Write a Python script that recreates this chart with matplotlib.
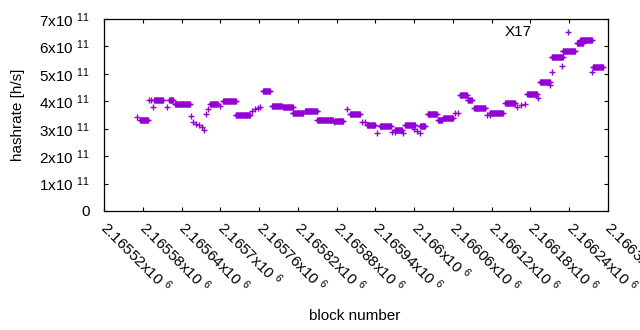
import numpy as np
import matplotlib.pyplot as plt

plt.rcParams['font.family'] = ['Liberation Sans', 'DejaVu Sans']
plt.rcParams['mathtext.default'] = 'regular'

# runs of blocks with the same hashrate estimate (first block, last block, rate in 1e11 h/s)
seg_first = [2165571, 2165576, 2165590, 2165593, 2165596, 2165598, 2165617, 2165621,
             2165630, 2165654, 2165658, 2165662, 2165667, 2165672, 2165675, 2165678,
             2165681, 2165684, 2165700, 2165704, 2165724, 2165749, 2165754, 2165758,
             2165761, 2165766, 2165780, 2165797, 2165812, 2165831, 2165850, 2165876,
             2165877, 2165896, 2165901, 2165919, 2165924, 2165927, 2165942, 2165947,
             2165966, 2165970, 2165970, 2165982, 2165986, 2166000, 2166004, 2166009,
             2166009, 2166021, 2166037, 2166045, 2166063, 2166068, 2166071, 2166083,
             2166093, 2166113, 2166117, 2166117, 2166141, 2166159, 2166165, 2166171,
             2166175, 2166192, 2166195, 2166210, 2166213, 2166213, 2166229, 2166230,
             2166238, 2166252, 2166257, 2166275, 2166277]
seg_last = [2165571, 2165588, 2165590, 2165593, 2165596, 2165611, 2165617, 2165627,
            2165653, 2165654, 2165658, 2165662, 2165667, 2165672, 2165675, 2165678,
            2165681, 2165696, 2165700, 2165724, 2165746, 2165749, 2165754, 2165758,
            2165761, 2165777, 2165795, 2165812, 2165828, 2165850, 2165874, 2165876,
            2165890, 2165896, 2165916, 2165919, 2165924, 2165939, 2165942, 2165964,
            2165966, 2165970, 2165981, 2165982, 2166001, 2166000, 2166004, 2166009,
            2166017, 2166035, 2166043, 2166060, 2166063, 2166068, 2166082, 2166089,
            2166110, 2166113, 2166117, 2166137, 2166156, 2166159, 2166165, 2166171,
            2166190, 2166192, 2166210, 2166210, 2166213, 2166230, 2166229, 2166249,
            2166238, 2166261, 2166275, 2166275, 2166292]
seg_rate = [3.42, 3.32, 4.05, 4.05, 3.78, 4.05, 3.80, 4.05,
            3.90, 3.47, 3.25, 3.18, 3.12, 3.08, 2.95, 3.54,
            3.71, 3.90, 3.83, 4.01, 3.49, 3.66, 3.72, 3.77,
            3.78, 4.37, 3.82, 3.78, 3.57, 3.65, 3.32, 3.26,
            3.28, 3.72, 3.54, 3.24, 3.24, 3.12, 2.85, 3.10,
            2.89, 2.89, 2.95, 2.83, 3.13, 3.00, 2.90, 2.85,
            3.10, 3.54, 3.32, 3.39, 3.56, 3.56, 4.22, 4.05,
            3.74, 3.50, 3.50, 3.58, 3.93, 3.80, 3.85, 3.90,
            4.25, 4.11, 4.71, 4.59, 5.08, 5.60, 5.29, 5.84,
            6.51, 6.11, 6.22, 5.08, 5.24]

blocks = []
rates = []
for a, b, r in zip(seg_first, seg_last, seg_rate):
    for blk in range(a, b + 1):
        blocks.append(blk)
        rates.append(r * 1e11)

x_ticks = np.arange(2165520, 2166301, 60)
y_ticks = np.arange(0, 8) * 1e11

fig = plt.figure(figsize=(6.4, 3.3), dpi=100)
ax = fig.add_axes([104 / 640, 1 - 211 / 330, 504 / 640, 192 / 330])
ax.plot(blocks, rates, '+', color='#9400d3', ms=5.0, mew=1.0, ls='none')

ax.set_xlim(2165520, 2166300)
ax.set_ylim(0, 7e11)
ax.set_xticks(x_ticks)
ax.set_xticklabels(['{:g}x10 $^{{6}}$'.format(v / 1e6) for v in x_ticks],
                   rotation=-45, ha='left', va='center', rotation_mode='anchor')
ax.set_yticks(y_ticks)
ax.set_yticklabels(['0'] + ['{:d}x10 $^{{11}}$'.format(i) for i in range(1, 8)])
ax.tick_params(direction='in', length=3, width=0.8, top=True, right=True,
               labelsize=11, colors='k')
ax.tick_params(axis='x', pad=10)
ax.tick_params(axis='y', pad=10)
for s in ax.spines.values():
    s.set_linewidth(0.9)

fig.text(18 / 640, 1 - 115 / 330, 'hashrate [h/s]', rotation=90, ha='center', va='center', fontsize=11)
fig.text(355 / 640, 1 - 316 / 330, 'block number', ha='center', va='center', fontsize=11)
fig.text(518 / 640, 1 - 32 / 330, 'X17', ha='center', va='center', fontsize=11)

fig.savefig('out.png', dpi=100)
